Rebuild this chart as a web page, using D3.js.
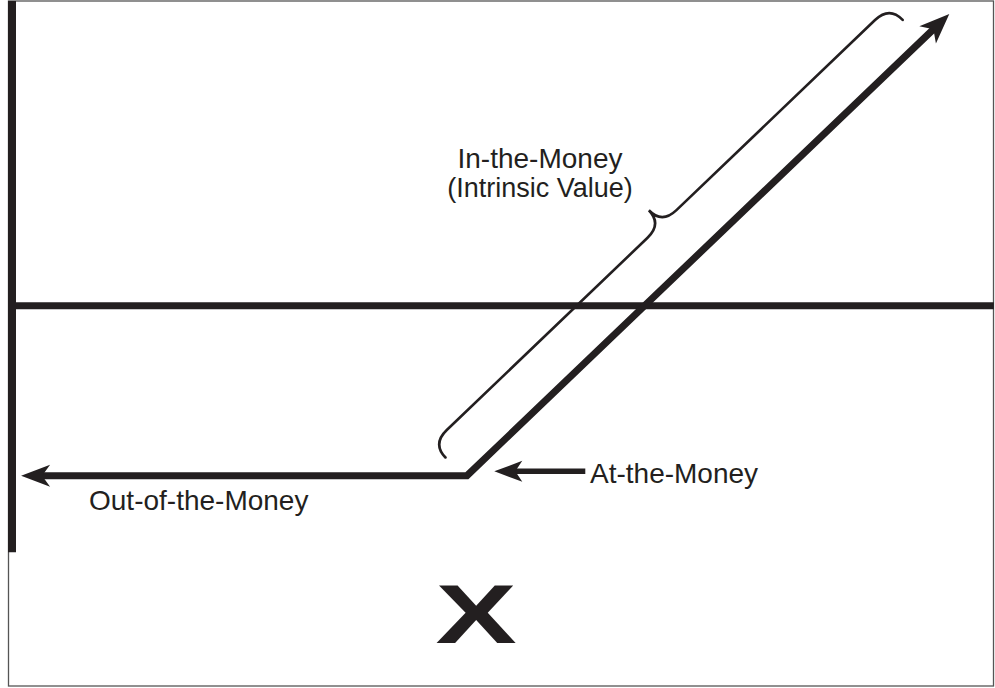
<!DOCTYPE html>
<html>
<head>
<meta charset="utf-8">
<script src="https://cdn.jsdelivr.net/npm/d3@7"></script>
<style>
	html, body { margin: 0; padding: 0; background: #fff; }
	svg { display: block; }
	text { font-family: "Liberation Sans", Arial, Helvetica, sans-serif; fill: #231f20; }
</style>
</head>
<body>
<div id="chart"></div>
<script>
// long call payoff at expiration (values in price / payoff units)
var strike = 50;
var premium = 19.5;
var pricePoints = [1, 50, 103];
var payoffValues = [-19.5, -19.5, 33.5];
var braceRange = [50, 100];          // in-the-money stretch marked by the brace
var atMoneyArrow = [63, 53];         // price from -> to, at payoff -19.5
var priceAxis = [0, 107.9];
var payoffAxis = [-28.3, 35];
var labelTexts = ["In-the-Money", "(Intrinsic Value)", "Out-of-the-Money", "At-the-Money", "X"];

var width = 995, height = 688;
var ink = "#231f20";

var x = d3.scaleLinear().domain([0, 100]).range([12, 922]);
var y = d3.scaleLinear().domain([-20, 35]).range([480, 1]);

var svg = d3.select("#chart").append("svg")
	.attr("width", width)
	.attr("height", height);

// frame
svg.append("rect")
	.attr("x", 8.5).attr("y", 1)
	.attr("width", 985).attr("height", 685)
	.style("fill", "none")
	.style("stroke", "#555")
	.style("stroke-width", 1.3);

// axes
svg.append("line")
	.attr("x1", x(priceAxis[0])).attr("x2", x(priceAxis[1]))
	.attr("y1", y(0)).attr("y2", y(0))
	.style("stroke", ink).style("stroke-width", 7);

svg.append("line")
	.attr("x1", x(0)).attr("x2", x(0))
	.attr("y1", y(payoffAxis[0])).attr("y2", y(payoffAxis[1]))
	.style("stroke", ink).style("stroke-width", 8);

// arrow head drawn at a tip, pointing along (dx, dy)
function arrowHead(tx, ty, dx, dy, len, half, notch) {
	var l = Math.sqrt(dx * dx + dy * dy);
	var ux = dx / l, uy = dy / l, nx = -uy, ny = ux;
	var bx = tx - ux * len, by = ty - uy * len;
	return "M" + tx + "," + ty +
		"L" + (bx + nx * half) + "," + (by + ny * half) +
		"L" + (tx - ux * (len - notch)) + "," + (ty - uy * (len - notch)) +
		"L" + (bx - nx * half) + "," + (by - ny * half) + "Z";
}

// payoff line (shortened at both ends so the heads keep sharp tips)
var pts = pricePoints.map(function(p, i) { return [x(p), y(payoffValues[i])]; });
var first = pts[0], last = pts[pts.length - 1];
var trim = 16;
function shorten(a, b, d) {
	var dx = a[0] - b[0], dy = a[1] - b[1], l = Math.sqrt(dx * dx + dy * dy);
	return [a[0] - dx / l * d, a[1] - dy / l * d];
}
var linePts = pts.slice();
linePts[0] = shorten(first, pts[1], trim);
linePts[linePts.length - 1] = shorten(last, pts[pts.length - 2], trim);

svg.append("path")
	.attr("d", d3.line()(linePts))
	.style("fill", "none")
	.style("stroke", ink)
	.style("stroke-width", 7)
	.style("stroke-linejoin", "miter");

svg.append("path")
	.attr("d", arrowHead(first[0], first[1], first[0] - pts[1][0], first[1] - pts[1][1], 29, 11, 8))
	.style("fill", ink);
svg.append("path")
	.attr("d", arrowHead(last[0], last[1], last[0] - pts[1][0], last[1] - pts[1][1], 30, 12, 8))
	.style("fill", ink);

// at-the-money pointer
var ay = y(-19.0);
svg.append("line")
	.attr("x1", x(atMoneyArrow[0])).attr("x2", x(atMoneyArrow[1]) + 14)
	.attr("y1", ay).attr("y2", ay)
	.style("stroke", ink).style("stroke-width", 5.5);
svg.append("path")
	.attr("d", arrowHead(x(atMoneyArrow[1]), ay, -1, 0, 28, 10.5, 7))
	.style("fill", ink);

// curly brace along the in-the-money part
var b0 = [x(braceRange[0]), y(braceRange[0] - strike - premium)];
var b1 = [x(braceRange[1]), y(braceRange[1] - strike - premium)];
var bl = Math.sqrt(Math.pow(b1[0] - b0[0], 2) + Math.pow(b1[1] - b0[1], 2));
var ang = Math.atan2(b1[1] - b0[1], b1[0] - b0[0]) * 180 / Math.PI;
var hook = -28, spine = -47, cusp = -66, r = 20, m = bl / 2;
var braceD = "M-3," + hook +
	"Q-3," + spine + " " + (r - 3) + "," + spine +
	"L" + (m - r) + "," + spine +
	"Q" + m + "," + spine + " " + m + "," + cusp +
	"Q" + m + "," + spine + " " + (m + r) + "," + spine +
	"L" + (bl - r) + "," + spine +
	"Q" + bl + "," + spine + " " + bl + "," + hook;

svg.append("path")
	.attr("transform", "translate(" + b0[0] + "," + b0[1] + ") rotate(" + ang + ")")
	.attr("d", braceD)
	.style("fill", "none")
	.style("stroke", ink)
	.style("stroke-width", 2.6)
	.style("stroke-linecap", "round");

// labels
svg.append("text")
	.attr("x", 540).attr("y", 168)
	.attr("text-anchor", "middle")
	.style("font-size", "28px")
	.text(labelTexts[0]);
svg.append("text")
	.attr("x", 540).attr("y", 197)
	.attr("text-anchor", "middle")
	.style("font-size", "27px")
	.text(labelTexts[1]);
svg.append("text")
	.attr("x", 89).attr("y", 510)
	.style("font-size", "28px")
	.text(labelTexts[2]);
svg.append("text")
	.attr("x", 590).attr("y", 483)
	.style("font-size", "28px")
	.text(labelTexts[3]);

// strike marker
svg.append("text")
	.attr("transform", "translate(" + (x(strike) + 9) + ",643) scale(1.45,1)")
	.attr("text-anchor", "middle")
	.style("font-size", "84px")
	.style("font-weight", "bold")
	.text(labelTexts[4]);
</script>
</body>
</html>
